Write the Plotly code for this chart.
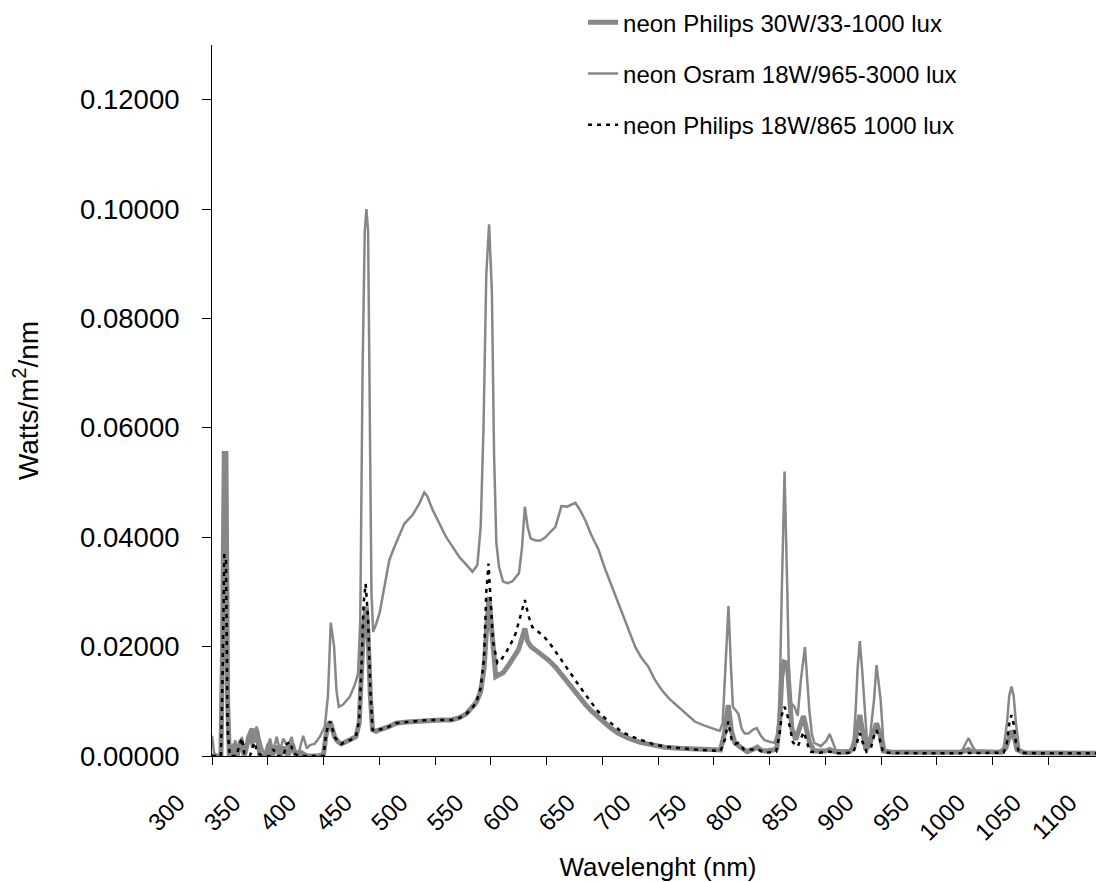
import plotly.graph_objects as go

# ---- Data ----
# Series 1: neon Philips 30W/33-1000 lux (thick grey)
wl_a = [300, 305, 308, 309.5, 311, 312.5, 314, 315.5, 318, 320, 322, 326, 329, 333, 336, 338, 340, 343, 348, 351,
        354, 358, 361, 365, 368, 372, 375, 380, 385, 395, 400, 402, 404, 406, 408, 410, 413, 416, 420, 425,
        429, 432, 434, 436, 438.4, 440, 442, 444, 447, 450, 458, 465, 475, 485, 495, 505, 515, 522, 528, 533,
        537, 541, 544, 546.5, 548.5, 550.5, 552.5, 554.5, 557, 561, 565, 570, 575, 578, 580.6, 583, 586, 590, 596, 602,
        608, 617, 623, 629, 635, 641, 648, 656, 664, 674, 684, 694, 706, 718, 733, 748, 756, 759.5, 763, 766,
        769, 774, 780, 785, 789, 793, 797, 803, 806.5, 809, 811, 813, 816, 818, 820, 823.5, 827, 830.5, 833, 836,
        840, 847, 850, 854, 858, 866, 872, 876, 878.5, 881, 883.5, 886.5, 890, 893, 896, 899, 902, 910, 920, 930,
        940, 950, 960, 970, 975, 978.5, 982, 990, 1000, 1008, 1012, 1014.5, 1017, 1019.5, 1022, 1028, 1040, 1050,
        1060, 1070, 1080, 1090, 1100]
val_a = [0.0, 0.0, 0.0, 0.02, 0.0553, 0.0553, 0.01, 0.0, 0.0, 0.0022, 0.0, 0.0029, 0.0, 0.0035, 0.005, 0.0025, 0.0048, 0.0, 0.0, 0.0022,
         0.0, 0.0018, 0.0, 0.0016, 0.0, 0.0022, 0.0, 0.0006, 0.0, 0.0, 0.0003, 0.0035, 0.0055, 0.0063, 0.005, 0.0035, 0.0026, 0.0022, 0.0026, 0.003,
         0.0035, 0.006, 0.014, 0.024, 0.0273, 0.022, 0.011, 0.0048, 0.0045, 0.0048, 0.0053, 0.006, 0.0062, 0.0064, 0.0066, 0.0066, 0.0066, 0.007, 0.0077, 0.0087,
         0.0098, 0.0118, 0.016, 0.024, 0.0291, 0.024, 0.018, 0.0145, 0.0148, 0.0152, 0.0163, 0.0178, 0.0195, 0.0215, 0.0233, 0.021, 0.02, 0.0194, 0.0185, 0.0175,
         0.0163, 0.0139, 0.0124, 0.0108, 0.0094, 0.0081, 0.0067, 0.0054, 0.0042, 0.0032, 0.0025, 0.002, 0.0016, 0.0014, 0.0012, 0.001, 0.0011, 0.004, 0.0093, 0.0045,
         0.0024, 0.0016, 0.0008, 0.0012, 0.0016, 0.001, 0.0009, 0.0011, 0.0014, 0.006, 0.0145, 0.0172, 0.017, 0.011, 0.005, 0.003, 0.0055, 0.0073, 0.005, 0.0025,
         0.0009, 0.0008, 0.0009, 0.0012, 0.0008, 0.0007, 0.0008, 0.0018, 0.0045, 0.0075, 0.0045, 0.0012, 0.0022, 0.0045, 0.006, 0.004, 0.0009, 0.0007, 0.0007, 0.0006,
         0.0006, 0.0006, 0.0007, 0.0007, 0.0009, 0.0012, 0.0008, 0.0007, 0.0006, 0.0007, 0.0015, 0.0035, 0.0046, 0.0035, 0.0012, 0.0006, 0.0006, 0.0005,
         0.0006, 0.0005, 0.0005, 0.0005, 0.0005]

# Series 2: neon Osram 18W/965-3000 lux (thin grey)
wl_b = [300, 302, 305, 308, 309.5, 311, 312.5, 314, 316, 318, 320.8, 323.8, 326.8, 329, 331, 334.2, 336, 340, 344.6, 347.6,
        352, 355, 358, 361, 364, 368, 371.4, 374, 378, 381.8, 385, 387.8, 392, 396.7, 401.2, 404, 406.5, 409.5, 411.6, 413.7,
        417.6, 423.5, 428, 431, 433, 435, 437, 438.5, 440, 441.5, 443, 444.5, 447, 450.3, 455, 459, 463.7, 468, 472.6, 480,
        486, 490.4, 493, 497.9, 504, 509.8, 516, 521.7, 528, 533.6, 538, 541, 543.5, 546, 548.5, 551, 553, 555, 557.4, 561,
        565, 569.3, 575.3, 578, 580.6, 583, 585.7, 590, 594.6, 599, 603.6, 608, 611, 613.4, 618.4, 622, 625.9, 630, 634.8, 640,
        646.7, 652, 658.6, 664, 670.5, 679.5, 685, 691.4, 697, 703.2, 710, 718.1, 725, 733, 740, 747.9, 755.4, 758, 760.5, 763.2,
        765.5, 767.2, 772.1, 775, 777.7, 781, 785, 788.6, 792, 795.5, 800, 804.5, 807, 808.9, 811, 813.5, 816, 817.9, 820, 822.3,
        825.3, 828.2, 831.8, 834, 835.7, 838, 840.2, 846, 851, 854, 857, 859.4, 866, 872.8, 875.5, 877.3, 879, 881, 883, 884.8,
        887, 889.3, 891.5, 893.7, 896, 898, 899.7, 902, 904, 912, 925, 940, 955, 965, 972, 975, 978.5, 982, 986, 995,
        1005, 1010, 1013, 1015, 1017, 1019, 1021, 1024, 1030, 1045, 1060, 1075, 1090, 1100]
val_b = [0.0037, 0.0005, 0.0, 0.0, 0.015, 0.045, 0.045, 0.008, 0.0, 0.0, 0.0029, 0.0, 0.0035, 0.0008, 0.0016, 0.0038, 0.0015, 0.0054, 0.0016, 0.0,
         0.0032, 0.0008, 0.0035, 0.001, 0.0032, 0.0016, 0.0035, 0.0008, 0.0008, 0.0037, 0.0014, 0.002, 0.0022, 0.0035, 0.0054, 0.011, 0.0244, 0.02, 0.012, 0.009,
         0.0094, 0.0108, 0.013, 0.015, 0.025, 0.07, 0.096, 0.1, 0.096, 0.06, 0.03, 0.0227, 0.024, 0.0261, 0.031, 0.0358, 0.0383, 0.0405, 0.0425, 0.0441,
         0.0462, 0.0482, 0.0475, 0.045, 0.0425, 0.0401, 0.0382, 0.0364, 0.035, 0.0337, 0.0349, 0.042, 0.06, 0.088, 0.0972, 0.085, 0.055, 0.039, 0.0346, 0.0319,
         0.0316, 0.0319, 0.0334, 0.038, 0.0456, 0.042, 0.0398, 0.0394, 0.0394, 0.040, 0.041, 0.0419, 0.044, 0.0457, 0.0456, 0.046, 0.0463, 0.045, 0.0431, 0.0405,
         0.0377, 0.0345, 0.031, 0.028, 0.0249, 0.02, 0.018, 0.0163, 0.014, 0.0121, 0.0105, 0.009, 0.0076, 0.0063, 0.0057, 0.0051, 0.0046, 0.006, 0.016, 0.0274,
         0.016, 0.009, 0.0077, 0.005, 0.0041, 0.0041, 0.0048, 0.0051, 0.0038, 0.0029, 0.0026, 0.0024, 0.004, 0.0084, 0.03, 0.052, 0.03, 0.0102, 0.0095, 0.009,
         0.0074, 0.014, 0.0199, 0.013, 0.0084, 0.004, 0.0024, 0.0018, 0.0028, 0.004, 0.0025, 0.0011, 0.001, 0.0011, 0.003, 0.0084, 0.016, 0.021, 0.016, 0.011,
         0.004, 0.0018, 0.006, 0.0102, 0.0166, 0.013, 0.0102, 0.003, 0.0008, 0.0007, 0.0006, 0.0007, 0.0006, 0.0006, 0.0007, 0.0018, 0.0033, 0.0018, 0.0006, 0.0006,
         0.0007, 0.0015, 0.006, 0.011, 0.0127, 0.011, 0.006, 0.0012, 0.0006, 0.0005, 0.0006, 0.0005, 0.0006, 0.0005]

# Series 3: neon Philips 18W/865 1000 lux (black dotted)
wl_c = [300, 308, 309.5, 311, 312.5, 314, 316, 322, 324, 326.8, 329, 334, 338, 341, 346, 352, 355, 358, 364, 367,
        370, 373, 378, 400, 402, 404, 406, 408, 410, 413, 416, 420, 425, 429, 432, 434, 436, 437.8, 440, 442,
        444, 447, 450, 458, 465, 475, 485, 495, 505, 515, 522, 528, 533, 537, 541, 544, 546, 548, 550, 552,
        555.9, 559, 563.4, 568, 572.3, 576, 580.6, 584, 587.2, 592, 597.6, 605, 611, 617, 623, 628.8, 635, 640.7, 646, 652.6,
        660, 667.5, 676, 685.4, 695, 706.3, 720, 733, 748, 756, 760, 763, 766, 769, 772, 777, 789, 797, 806, 809,
        811, 813.4, 815.5, 817.9, 821, 825.3, 828, 830.6, 833, 836, 845, 854, 860, 875, 878.5, 881, 883.5, 887, 891, 893.5,
        896, 899, 902, 920, 940, 960, 980, 1000, 1010, 1013, 1015, 1017, 1019, 1021, 1024, 1040, 1060, 1080, 1100]
val_c = [0.0, 0.0, 0.015, 0.0367, 0.0367, 0.005, 0.0, 0.0, 0.0015, 0.0033, 0.0005, 0.0, 0.0025, 0.0005, 0.0, 0.0, 0.0012, 0.0, 0.0, 0.0022,
         0.0026, 0.0005, 0.0, 0.0, 0.0035, 0.0055, 0.0063, 0.005, 0.0035, 0.0026, 0.0022, 0.0026, 0.003, 0.0035, 0.0065, 0.016, 0.028, 0.0315, 0.025, 0.012,
         0.0048, 0.0045, 0.0048, 0.0053, 0.006, 0.0062, 0.0064, 0.0066, 0.0066, 0.0066, 0.007, 0.0077, 0.0087, 0.0098, 0.0125, 0.018, 0.03, 0.0352, 0.028, 0.021,
         0.017, 0.0175, 0.0188, 0.0205, 0.0224, 0.025, 0.0285, 0.0255, 0.0236, 0.0228, 0.0219, 0.02, 0.0182, 0.0163, 0.0146, 0.013, 0.0112, 0.0096, 0.0082, 0.0069,
         0.0056, 0.0044, 0.0036, 0.0029, 0.0022, 0.0017, 0.0014, 0.0012, 0.001, 0.0009, 0.003, 0.0063, 0.003, 0.0022, 0.0024, 0.0012, 0.0012, 0.0006, 0.0008, 0.004,
         0.0075, 0.009, 0.008, 0.0055, 0.0025, 0.0017, 0.003, 0.0044, 0.003, 0.0008, 0.0006, 0.0008, 0.0005, 0.0006, 0.0025, 0.0042, 0.0025, 0.0008, 0.0015, 0.0035,
         0.0047, 0.003, 0.0006, 0.0005, 0.0005, 0.0005, 0.0005, 0.0005, 0.0006, 0.0025, 0.0058, 0.0075, 0.0058, 0.0025, 0.0006, 0.0005, 0.0005, 0.0005, 0.0005]

names = ["neon Philips 30W/33-1000 lux", "neon Osram 18W/965-3000 lux", "neon Philips 18W/865 1000 lux"]
x_ticks = list(range(300, 1101, 50))
y_ticks = [0.0, 0.02, 0.04, 0.06, 0.08, 0.10, 0.12]

FONT = "Liberation Sans, Arial, sans-serif"

fig = go.Figure()
fig.add_trace(go.Scatter(x=wl_a, y=val_a, mode="lines", name=names[0], legendgroup="a",
                         line=dict(color="#878787", width=5)))
fig.add_trace(go.Scatter(x=wl_b, y=val_b, mode="lines", name=names[1], legendgroup="b",
                         line=dict(color="#878787", width=2.5)))
fig.add_trace(go.Scatter(x=wl_c, y=val_c, mode="lines", name=names[2], legendgroup="c",
                         line=dict(color="#000000", width=2.5, dash="4px,5px")))

fig.update_layout(
    width=1096, height=874,
    paper_bgcolor="white", plot_bgcolor="white",
    margin=dict(l=204, r=0, t=37, b=126, autoexpand=False),
    font=dict(family=FONT, size=25, color="black"),
    showlegend=True,
    legend=dict(x=0.416, y=1.063, xanchor="left", yanchor="top",
                font=dict(family=FONT, size=24, color="black"),
                bgcolor="rgba(0,0,0,0)", traceorder="grouped", tracegroupgap=17,
                itemwidth=30),
    xaxis=dict(range=[300, 1100], tickmode="array", tickvals=x_ticks,
               ticktext=[str(v) for v in x_ticks], tickangle=-45,
               tickfont=dict(size=24), showgrid=False, zeroline=False,
               showline=True, linecolor="black", linewidth=1,
               ticks="outside", ticklen=8, tickcolor="black",
               ticklabelstandoff=14, ticklabelshift=-34,
               title=dict(text="Wavelenght (nm)", font=dict(size=26), standoff=13),
               automargin=False),
    yaxis=dict(range=[0, 0.13], tickmode="array", tickvals=y_ticks,
               ticktext=["%.5f" % v for v in y_ticks],
               tickfont=dict(size=27.5), showgrid=False, zeroline=False,
               showline=True, linecolor="black", linewidth=1,
               ticks="outside", ticklen=9, tickcolor="black",
               ticklabelstandoff=17,
               title=dict(text="Watts/m<sup>2</sup>/nm", font=dict(size=28), standoff=53),
               automargin=False),
)

fig.write_html("out.html")
